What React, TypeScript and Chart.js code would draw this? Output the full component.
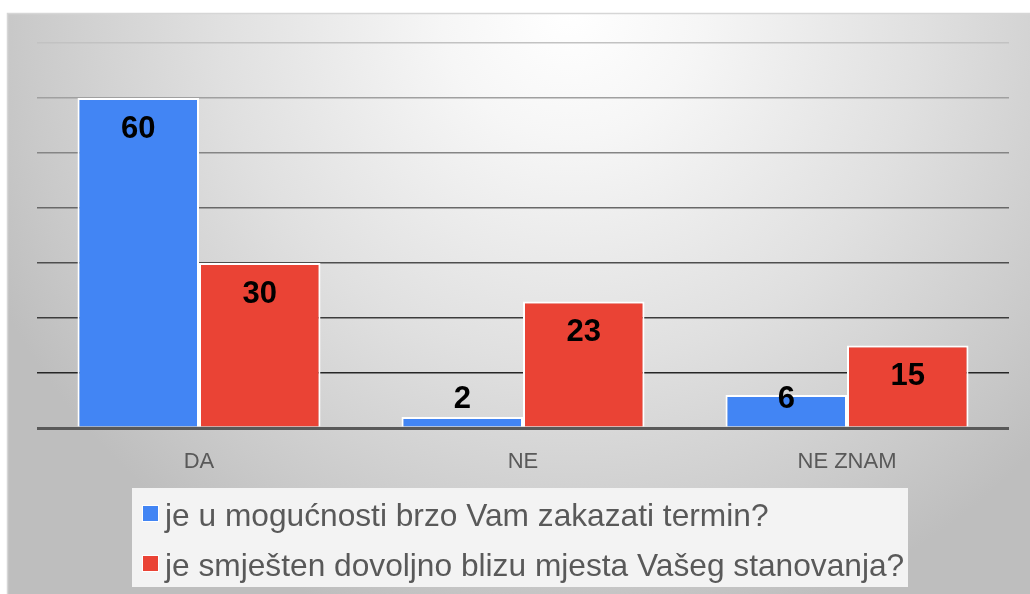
import React, { useEffect, useRef } from "react";
import { Chart, registerables } from "chart.js";

Chart.register(...registerables);

const categories = ["DA", "NE", "NE ZNAM"];
const seriesLabels = [
  "je u mogućnosti brzo Vam zakazati termin?",
  "je smješten dovoljno blizu mjesta Vašeg stanovanja?",
];
const seriesA = [60, 2, 6];
const seriesB = [30, 23, 15];
const seriesColors = ["#4285F4", "#EA4335"];
const yMax = 70;
const yStep = 10;

const FONT = "'Liberation Sans', Arial, sans-serif";

const gridColors: Record<number, string> = {
  0: "#595959",
  10: "#262626",
  20: "#3c3c3c",
  30: "#4e4e4e",
  40: "#686868",
  50: "#858585",
  60: "#a0a0a0",
  70: "#c2c2c2",
};

const backgroundPlugin = {
  id: "panelBg",
  beforeDraw(chart: any) {
    const { ctx, width, height } = chart;
    ctx.save();
    ctx.fillStyle = "#ffffff";
    ctx.fillRect(0, 0, width, height);
    const g = ctx.createRadialGradient(570, 10, 0, 570, 10, 640);
    g.addColorStop(0, "#ffffff");
    g.addColorStop(0.2, "#f6f6f6");
    g.addColorStop(0.55, "#e0e0e0");
    g.addColorStop(0.85, "#cacaca");
    g.addColorStop(1, "#bebebe");
    ctx.fillStyle = g;
    ctx.fillRect(7, 13, width - 7, height - 13);
    ctx.strokeStyle = "#d6d6d6";
    ctx.lineWidth = 1.5;
    ctx.beginPath();
    ctx.moveTo(7.5, height);
    ctx.lineTo(7.5, 13.5);
    ctx.lineTo(width, 13.5);
    ctx.stroke();
    ctx.restore();
  },
};

const dataLabelPlugin = {
  id: "barValues",
  afterDatasetsDraw(chart: any) {
    const { ctx } = chart;
    const base = chart.scales.y.getPixelForValue(0);
    ctx.save();
    ctx.font = `bold 31px ${FONT}`;
    ctx.fillStyle = "#000000";
    ctx.textAlign = "center";
    ctx.textBaseline = "middle";
    chart.data.datasets.forEach((ds: any, i: number) => {
      const meta = chart.getDatasetMeta(i);
      meta.data.forEach((bar: any, j: number) => {
        const y = Math.min(bar.y + 31, base - 29);
        ctx.fillText(String(ds.data[j]), bar.x, y);
      });
    });
    ctx.restore();
  },
};

const legendPlugin = {
  id: "boxLegend",
  afterDraw(chart: any) {
    const { ctx } = chart;
    ctx.save();
    ctx.fillStyle = "#f3f3f3";
    ctx.fillRect(132, 488, 776, 99);
    ctx.font = `31.7px ${FONT}`;
    ctx.textBaseline = "alphabetic";
    ctx.textAlign = "left";
    chart.data.datasets.forEach((ds: any, i: number) => {
      const baseline = 526 + i * 50;
      ctx.fillStyle = "#ffffff";
      ctx.fillRect(142, baseline - 21, 17, 17);
      ctx.fillStyle = ds.backgroundColor;
      ctx.fillRect(143, baseline - 20, 15, 15);
      ctx.fillStyle = "#595959";
      ctx.fillText(ds.label, 165, baseline);
    });
    ctx.restore();
  },
};

export default function App() {
  const ref = useRef<HTMLCanvasElement | null>(null);
  useEffect(() => {
    if (!ref.current) return;
    const chart = new Chart(ref.current, {
      type: "bar",
      data: {
        labels: categories,
        datasets: [
          {
            label: seriesLabels[0],
            data: seriesA,
            backgroundColor: seriesColors[0],
            borderColor: "#ffffff",
            borderWidth: 2,
            categoryPercentage: 0.75,
            barPercentage: 1,
          },
          {
            label: seriesLabels[1],
            data: seriesB,
            backgroundColor: seriesColors[1],
            borderColor: "#ffffff",
            borderWidth: 2,
            categoryPercentage: 0.75,
            barPercentage: 1,
          },
        ],
      },
      options: {
        responsive: false,
        animation: false,
        devicePixelRatio: 1,
        layout: { padding: { left: 37, right: 21, top: 43, bottom: 120 } },
        plugins: {
          legend: { display: false },
          tooltip: { enabled: false },
          title: { display: false },
        },
        scales: {
          x: {
            grid: { display: false, drawTicks: false },
            border: { display: false },
            ticks: {
              color: "#595959",
              font: { family: FONT, size: 22 },
              padding: 21,
            },
            afterFit(scale: any) {
              scale.height = 46;
            },
          },
          y: {
            min: 0,
            max: yMax,
            ticks: { display: false, stepSize: yStep },
            border: { display: false },
            grid: {
              drawTicks: false,
              color: (c: any) => gridColors[c.tick?.value] ?? "#888888",
              lineWidth: (c: any) => (c.tick?.value === 0 ? 3 : 1.6),
            },
            afterFit(scale: any) {
              scale.width = 0;
            },
          },
        },
      },
      plugins: [backgroundPlugin, dataLabelPlugin, legendPlugin],
    });
    return () => chart.destroy();
  }, []);
  return (
    <div style={{ position: "absolute", left: 0, top: 0, width: 1030, height: 594 }}>
      <canvas ref={ref} width={1030} height={594} style={{ display: "block" }} />
    </div>
  );
}
